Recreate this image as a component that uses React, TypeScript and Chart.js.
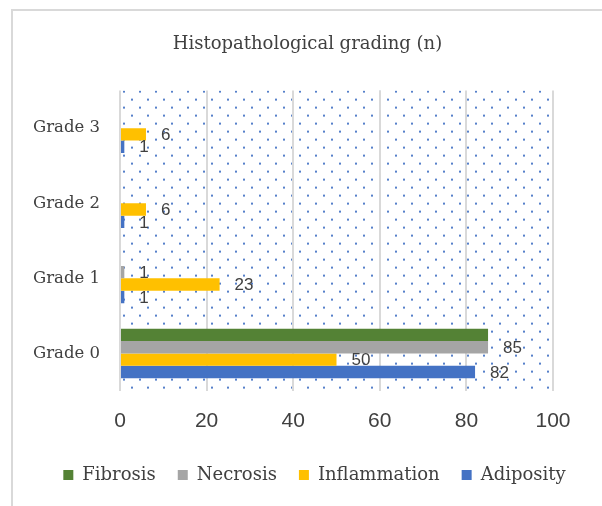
import React, { useEffect, useRef } from "react";
import { Chart, registerables } from "chart.js";

Chart.register(...registerables);

const categories = ["Grade 3", "Grade 2", "Grade 1", "Grade 0"];
const fibrosis = [0, 0, 0, 85];
const necrosis = [0, 0, 1, 85];
const inflammation = [6, 6, 23, 50];
const adiposity = [1, 1, 1, 82];
const xTicks = [0, 20, 40, 60, 80, 100];
const chartTitle = "Histopathological grading (n)";

const SERIF = "'DejaVu Serif', serif";
const SANS = "'Liberation Sans', sans-serif";
const TEXT = "#404040";

export default function App() {
  const ref = useRef<HTMLCanvasElement | null>(null);

  useEffect(() => {
    const canvas = ref.current;
    if (!canvas) return;

    const tile = document.createElement("canvas");
    tile.width = 16;
    tile.height = 16;
    const tctx = tile.getContext("2d")!;
    tctx.fillStyle = "rgba(68,114,196,0.9)";
    tctx.fillRect(3, 0, 2, 2);
    tctx.fillRect(11, 8, 2, 2);

    const framePlugin = {
      id: "frame",
      afterLayout(chart: any) {
        const lg = chart.legend;
        if (lg) {
          lg.left = 38;
          lg.right = 38 + 553;
        }
        const tb = chart.titleBlock;
        if (tb) {
          tb.left = 31;
          tb.right = 31 + 553;
        }
      },
      beforeDraw(chart: any) {
        const ctx = chart.ctx;
        const a = chart.chartArea;
        ctx.save();
        ctx.fillStyle = "#ffffff";
        ctx.fillRect(0, 0, chart.width, chart.height);
        ctx.strokeStyle = "#d9d9d9";
        ctx.lineWidth = 2;
        ctx.beginPath();
        ctx.moveTo(12, chart.height + 2);
        ctx.lineTo(12, 10);
        ctx.lineTo(chart.width + 2, 10);
        ctx.stroke();
        const pat = ctx.createPattern(tile, "repeat");
        ctx.translate(a.left, a.top);
        ctx.fillStyle = pat;
        ctx.fillRect(0, 0, a.right - a.left, a.bottom - a.top);
        ctx.restore();
      },
    };

    const labelPlugin = {
      id: "valueLabels",
      afterDatasetsDraw(chart: any) {
        const ctx = chart.ctx;
        ctx.save();
        ctx.font = `17px ${SANS}`;
        ctx.fillStyle = TEXT;
        ctx.textAlign = "left";
        ctx.textBaseline = "middle";
        chart.data.datasets.forEach((ds: any, di: number) => {
          if (!ds.showLabels) return;
          const meta = chart.getDatasetMeta(di);
          meta.data.forEach((el: any, i: number) => {
            const v = ds.data[i];
            if (!v) return;
            ctx.fillText(String(v), el.x + 15, el.y + 1);
          });
        });
        ctx.restore();
      },
    };

    const chart = new Chart(canvas, {
      type: "bar",
      data: {
        labels: categories,
        datasets: [
          { label: "Fibrosis", data: fibrosis, backgroundColor: "#548235", showLabels: false } as any,
          { label: "Necrosis", data: necrosis, backgroundColor: "#A5A5A5", showLabels: true } as any,
          { label: "Inflammation", data: inflammation, backgroundColor: "#FFC000", showLabels: true } as any,
          { label: "Adiposity", data: adiposity, backgroundColor: "#4472C4", showLabels: true } as any,
        ],
      },
      options: {
        indexAxis: "y",
        responsive: false,
        animation: false,
        devicePixelRatio: 1,
        datasets: { bar: { categoryPercentage: 0.66, barPercentage: 1, borderWidth: 0 } },
        layout: { padding: { left: 0, right: 49, top: 0, bottom: 12 } },
        plugins: {
          tooltip: { enabled: false },
          title: {
            display: true,
            text: chartTitle,
            color: TEXT,
            font: { family: SERIF, size: 18, weight: "normal" },
            padding: { top: 34, bottom: 35 },
          },
          legend: {
            display: true,
            position: "bottom",
            labels: {
              color: TEXT,
              font: { family: SERIF, size: 18 },
              boxWidth: 10,
              boxHeight: 10,
              padding: 22,
            },
          },
        },
        scales: {
          x: {
            min: 0,
            max: 100,
            afterBuildTicks(scale: any) {
              scale.ticks = xTicks.map((v) => ({ value: v }));
            },
            afterFit(scale: any) {
              scale.height = 53;
            },
            grid: { color: "#d9d9d9", lineWidth: 2, drawTicks: false },
            border: { display: false },
            ticks: {
              color: TEXT,
              font: { family: SANS, size: 21 },
              padding: 18,
            },
          },
          y: {
            afterFit(scale: any) {
              scale.width = 120;
            },
            grid: { display: false, drawTicks: false },
            border: { display: false },
            ticks: {
              color: TEXT,
              font: { family: SERIF, size: 16.5 },
              padding: 20,
            },
          },
        },
      },
      plugins: [framePlugin, labelPlugin],
    });

    return () => chart.destroy();
  }, []);

  return (
    <div style={{ position: "fixed", left: 0, top: 0, width: 602, height: 506, overflow: "hidden", background: "#fff" }}>
      <canvas ref={ref} width={602} height={506} style={{ width: 602, height: 506, display: "block" }} />
    </div>
  );
}
